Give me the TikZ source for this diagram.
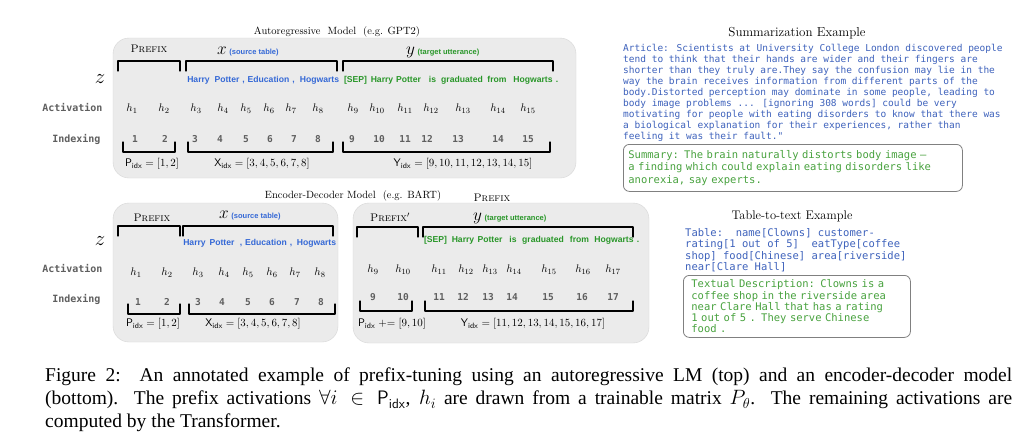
\documentclass[tikz,border=0pt]{standalone}
\usepackage{fontspec}
\usepackage{amsmath}
\usetikzlibrary{positioning}
\newfontfamily\capfont{Liberation Serif}
\newfontfamily\wordfont{Liberation Sans}
\newfontfamily\codefont{DejaVu Sans Mono}

\definecolor{srcblue}{RGB}{52,104,214}
\definecolor{tgtgreen}{RGB}{40,150,40}
\definecolor{artblue}{RGB}{62,98,188}
\definecolor{sumgreen}{RGB}{72,162,62}
\definecolor{labgray}{RGB}{95,95,95}

% small coloured note after x and y
\newcommand{\segtag}[1]{{\wordfont\bfseries\fontsize{7.5}{9}\selectfont #1}}
% bracket over a span (ticks down) and under a span (ticks up)
\newcommand{\downbrk}[3]{\draw[brk] (#1,#3+10) -- (#1,#3) -- (#2,#3) -- (#2,#3+10);}
\newcommand{\upbrk}[3]{\draw[brk] (#1,#3-10) -- (#1,#3) -- (#2,#3) -- (#2,#3-10);}

\begin{document}
\begin{tikzpicture}[x=1pt,y=-1pt,line cap=round,line join=round,
  panel/.style={draw=black!16,fill=black!8,rounded corners=16pt},
  brk/.style={line width=1.2pt},
  ttl/.style={font=\fontsize{10.5}{12}\selectfont},
  rowlab/.style={anchor=east,text=labgray,font=\codefont\bfseries\fontsize{10}{12}\selectfont},
  pfx/.style={font=\fontsize{11}{13}\selectfont},
  seg/.style={anchor=base west,inner sep=0pt,font=\fontsize{16}{18}\selectfont},
  word/.style={anchor=base,inner sep=0pt,font=\wordfont\bfseries\fontsize{8.6}{10}\selectfont},
  act/.style={font=\fontsize{11}{13}\selectfont},
  idx/.style={text=labgray,font=\codefont\bfseries\fontsize{9.5}{11}\selectfont},
  lst/.style={font=\fontsize{11}{13}\selectfont},
  code/.style={align=left,anchor=north west,inner sep=0pt},
  sumbox/.style={draw=black!50,line width=0.8pt,rounded corners=6pt,anchor=north west,align=left}]

  % white background
  \useasboundingbox (0,0) rectangle (1030,445);
  \fill[white] (0,0) rectangle (1030,445);

  % ---------------- autoregressive model ----------------
  \node[ttl] (artitle) at (337,32) {Autoregressive\ \ Model\ \ (e.g. GPT2)};
  \draw[panel] (113,38) rectangle (576,178);

  \node[font=\fontsize{22}{24}\selectfont] (za) at (100,79) {$z$};
  \node[rowlab] (acta) at (106,108) {Activation};
  \node[rowlab] (idxa) at (104,139) {Indexing};

  \node[pfx] (pfxa) at (149,49) {\textsc{Prefix}};
  \node[seg] (xa) at (217,54) {$x$\,\textcolor{srcblue}{\segtag{(source table)}}};
  \node[seg] (ya) at (406,54) {$y$\,\textcolor{tgtgreen}{\segtag{(target utterance)}}};

  \downbrk{118}{180}{61}
  \downbrk{186}{337}{61}
  \downbrk{343}{553}{61}

  \foreach \px/\w [count=\i] in {198.5/Harry,227/Potter,243.5/{,},268.5/Education,293.5/{,},319.5/Hogwarts}
    \node[word,text=srcblue] (wxa\i) at (\px,82) {\w};
  \foreach \px/\w [count=\i] in {355.5/[SEP],382/Harry,408.5/Potter,432.5/is,462/graduated,497/from,533/Hogwarts,557/.}
    \node[word,text=tgtgreen] (wya\i) at (\px,82) {\w};

  \foreach \px [count=\i] in {132,164,196,223,246,269,291,318,353,377,405,431,463,498,528}
    \node[act] (ha\i) at (\px,109) {$h_{\i}$};
  \foreach \px [count=\i] in {135,165,195,220,246,270,294,318,352,379,405,427,458,498,528}
    \node[idx] (ia\i) at (\px,139) {\i};

  \upbrk{123}{175}{152}
  \upbrk{188}{333}{152}
  \upbrk{343}{550}{152}

  \node[lst] (pa) at (152,164) {$\mathsf{P}_{\mathsf{idx}} = [1,2]$};
  \node[lst] (xia) at (262,164) {$\mathsf{X}_{\mathsf{idx}} = [3,4,5,6,7,8]$};
  \node[lst] (yia) at (463,164) {$\mathsf{Y}_{\mathsf{idx}} = [9,10,11,12,13,14,15]$};

  % ---------------- encoder-decoder model ----------------
  \node[ttl] (edtitle) at (353,196) {Encoder-Decoder Model\ \ (e.g. BART)};
  \node[pfx] (pfxs) at (492,198) {\textsc{Prefix}};
  \draw[panel] (113,203) rectangle (338,342);
  \draw[panel] (353,203) rectangle (649,343);

  \node[font=\fontsize{22}{24}\selectfont] (zb) at (100,241) {$z$};
  \node[rowlab] (actb) at (106,268) {Activation};
  \node[rowlab] (idxb) at (104,299) {Indexing};

  % encoder
  \node[pfx] (pfxb) at (152,218) {\textsc{Prefix}};
  \node[seg] (xb) at (219,218) {$x$\,\textcolor{srcblue}{\segtag{(source table)}}};
  \downbrk{118}{180}{226}
  \downbrk{183}{333}{226}
  \foreach \px/\w [count=\i] in {194.5/Harry,222/Potter,241/{,},266/Education,291/{,},316.5/Hogwarts}
    \node[word,text=srcblue] (wxb\i) at (\px,245) {\w};
  \foreach \px [count=\i] in {136,167,198,224,248,272,295,320}
    \node[act] (hb\i) at (\px,273) {$h_{\i}$};
  \foreach \px [count=\i] in {138,167,198,222,248,272,297,321}
    \node[idx] (ib\i) at (\px,302) {\i};
  \upbrk{128}{180}{314}
  \upbrk{189}{335}{314}
  \node[lst] (pb) at (153,324) {$\mathsf{P}_{\mathsf{idx}} = [1,2]$};
  \node[lst] (xib) at (253,324) {$\mathsf{X}_{\mathsf{idx}} = [3,4,5,6,7,8]$};

  % decoder
  \node[pfx] (pfxc) at (390,217) {\textsc{Prefix}$'$};
  \node[seg] (yc) at (473,220) {$y$\,\textcolor{tgtgreen}{\segtag{(target utterance)}}};
  \downbrk{357}{418}{227}
  \downbrk{423}{633}{227}
  \foreach \px/\w [count=\i] in {435.5/[SEP],463/Harry,490/Potter,513/is,543/graduated,579.5/from,614/Hogwarts,638/.}
    \node[word,text=tgtgreen] (wyc\i) at (\px,242) {\w};
  \foreach \px [count=\i from 9] in {373,403,439,466,490,514,549,583,613}
    \node[act] (hc\i) at (\px,270) {$h_{\i}$};
  \foreach \px [count=\i from 9] in {373,403,439,463,488,512,548,582,613}
    \node[idx] (ic\i) at (\px,297) {\i};
  \upbrk{360}{412}{311}
  \upbrk{425}{633}{311}
  \node[lst] (pc) at (392,324) {$\mathsf{P}_{\mathsf{idx}} \mathrel{+}\mathrel{=} [9,10]$};
  \node[lst] (yic) at (533,324) {$\mathsf{Y}_{\mathsf{idx}} = [11,12,13,14,15,16,17]$};

  % ---------------- summarization example ----------------
  \node[font=\fontsize{13}{15}\selectfont] (sumtitle) at (797,33) {Summarization Example};
  \node[code,text=artblue,font=\codefont\fontsize{9.5}{11}\selectfont] (article) at (623,44) {%
    Article: Scientists at University College London discovered people\\
    tend to think that their hands are wider and their fingers are\\
    shorter than they truly are.They say the confusion may lie in the\\
    way the brain receives information from different parts of the\\
    body.Distorted perception may dominate in some people, leading to\\
    body image problems ... [ignoring 308 words] could be very\\
    motivating for people with eating disorders to know that there was\\
    a biological explanation for their experiences, rather than\\
    feeling it was their fault."};
  \node[sumbox,text=sumgreen,font=\codefont\fontsize{10.5}{12.5}\selectfont,
        text width=329pt,inner xsep=5pt,minimum height=47pt] (summary) at (623,144) {%
    Summary: The brain naturally distorts body image –\\
    a finding which could explain eating disorders like\\
    anorexia, say experts.};

  % ---------------- table-to-text example ----------------
  \node[font=\fontsize{12.5}{15}\selectfont] (tabtitle) at (792,216) {Table-to-text Example};
  \node[code,text=artblue,font=\codefont\fontsize{10.5}{11.5}\selectfont] (table) at (685,228) {%
    Table:\ \ name[Clowns] customer-\\
    rating[1 out of 5]\ \ eatType[coffee\\
    shop] food[Chinese] area[riverside]\\
    near[Clare Hall]};
  \node[sumbox,text=sumgreen,font=\codefont\fontsize{10.5}{11.3}\selectfont,
        text width=211pt,inner xsep=8pt,minimum height=62pt] (descr) at (683,275) {%
    Textual Description: Clowns is a\\
    coffee shop in the riverside area\\
    near Clare Hall that has a rating\\
    1 out of 5 . They serve Chinese\\
    food .};

  % ---------------- caption ----------------
  \node[anchor=north west,inner sep=0pt,align=left,font=\capfont\fontsize{19.5}{23}\selectfont] (caption) at (45,368) {%
    \makebox[967pt][s]{Figure 2:\ \ An annotated example of prefix-tuning using an autoregressive LM (top) and an encoder-decoder model}\\
    \makebox[967pt][s]{(bottom). The prefix activations $\forall i \in \mathsf{P}_{\mathsf{idx}}$, $h_i$ are drawn from a trainable matrix $P_\theta$. The remaining activations are}\\
    computed by the Transformer.};
\end{tikzpicture}
\end{document}
